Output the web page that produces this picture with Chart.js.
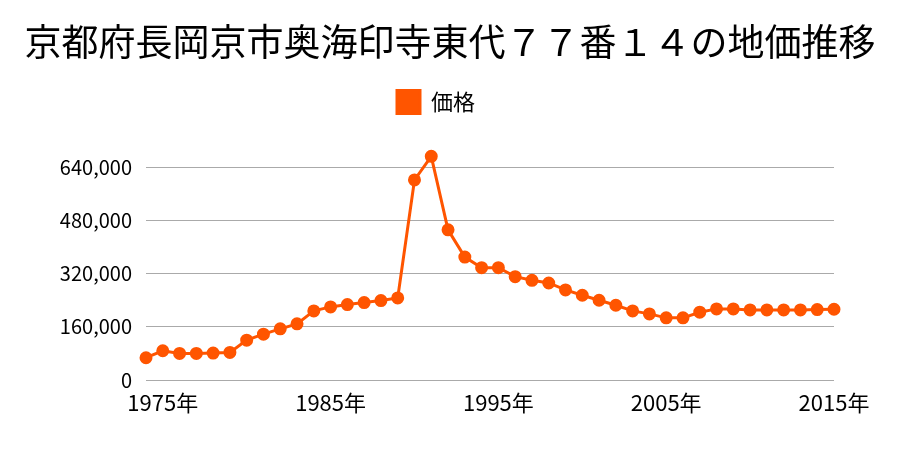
<!DOCTYPE html>
<html>
<head>
<meta charset="utf-8">
<script src="https://cdn.jsdelivr.net/npm/chart.js@4/dist/chart.umd.min.js"></script>
<style>
  body { margin: 0; background: #fff; }
</style>
</head>
<body>
<canvas id="chart" width="900" height="450"></canvas>
<script>
// 年（1974〜2015）
const years = [1974, 1975, 1976, 1977, 1978, 1979, 1980, 1981, 1982, 1983,
  1984, 1985, 1986, 1987, 1988, 1989, 1990, 1991, 1992, 1993,
  1994, 1995, 1996, 1997, 1998, 1999, 2000, 2001, 2002, 2003,
  2004, 2005, 2006, 2007, 2008, 2009, 2010, 2011, 2012, 2013,
  2014, 2015];

// 価格 (円/m²)
const prices = [67000, 88000, 80000, 80000, 81000, 83000, 120000, 138000, 154000, 169000,
  208000, 220000, 227000, 233000, 239000, 247000, 602000, 673000, 452000, 370000,
  338000, 338000, 311000, 300000, 292000, 271000, 255000, 240000, 225000, 208000,
  199000, 187000, 187000, 204000, 214000, 214000, 211000, 211000, 211000, 211000,
  212000, 213000];

const yTicks = [0, 160000, 320000, 480000, 640000];

const orange = '#ff5500';
const font = "'Noto Sans CJK JP', 'Noto Sans', sans-serif";

// legend: extra space below it; title: centred on the whole canvas
const tweaks = {
  id: 'tweaks',
  beforeInit(chart) {
    const fit = chart.legend.fit;
    chart.legend.fit = function () {
      fit.bind(chart.legend)();
      this.height += 24;
    };
  },
  afterLayout(chart) {
    chart.titleBlock.left = 0;
    chart.titleBlock.right = chart.width;
  }
};

new Chart(document.getElementById('chart'), {
  type: 'line',
  data: {
    labels: years,
    datasets: [{
      label: '価格',
      data: prices,
      borderColor: orange,
      backgroundColor: orange,
      borderWidth: 3,
      pointRadius: 5,
      pointHoverRadius: 5,
      pointBackgroundColor: orange,
      pointBorderColor: orange,
      tension: 0,
      fill: false
    }]
  },
  options: {
    responsive: false,
    animation: false,
    layout: { padding: { left: 38, right: 66, top: 0, bottom: 30 } },
    plugins: {
      title: {
        display: true,
        text: '京都府長岡京市奥海印寺東代７７番１４の地価推移',
        color: '#000',
        font: { family: font, size: 37, weight: 'normal' },
        padding: { top: 20, bottom: 16 }
      },
      legend: {
        labels: {
          color: '#000',
          font: { family: font, size: 22 },
          boxWidth: 23,
          boxHeight: 23,
          padding: 10
        }
      },
      tooltip: { enabled: false }
    },
    scales: {
      x: {
        offset: false,
        grid: { display: false },
        border: { display: false },
        ticks: {
          color: '#000',
          font: { family: font, size: 22 },
          autoSkip: false,
          maxRotation: 0,
          padding: 1,
          callback: function (v, i) {
            const y = years[i];
            return y % 10 === 5 ? y + '年' : null;
          }
        },
        afterFit(scale) { scale.height = 40; }
      },
      y: {
        min: 0,
        max: 700000,
        grid: { color: '#aaaaaa', lineWidth: 1, drawTicks: false },
        border: { display: false },
        afterBuildTicks(scale) {
          scale.ticks = yTicks.map(v => ({ value: v }));
        },
        ticks: {
          color: '#000',
          font: { family: font, size: 20 },
          padding: 14,
          callback: v => v.toLocaleString('en-US')
        },
        afterFit(scale) { scale.width = 108; }
      }
    }
  },
  plugins: [tweaks]
});
</script>
</body>
</html>
